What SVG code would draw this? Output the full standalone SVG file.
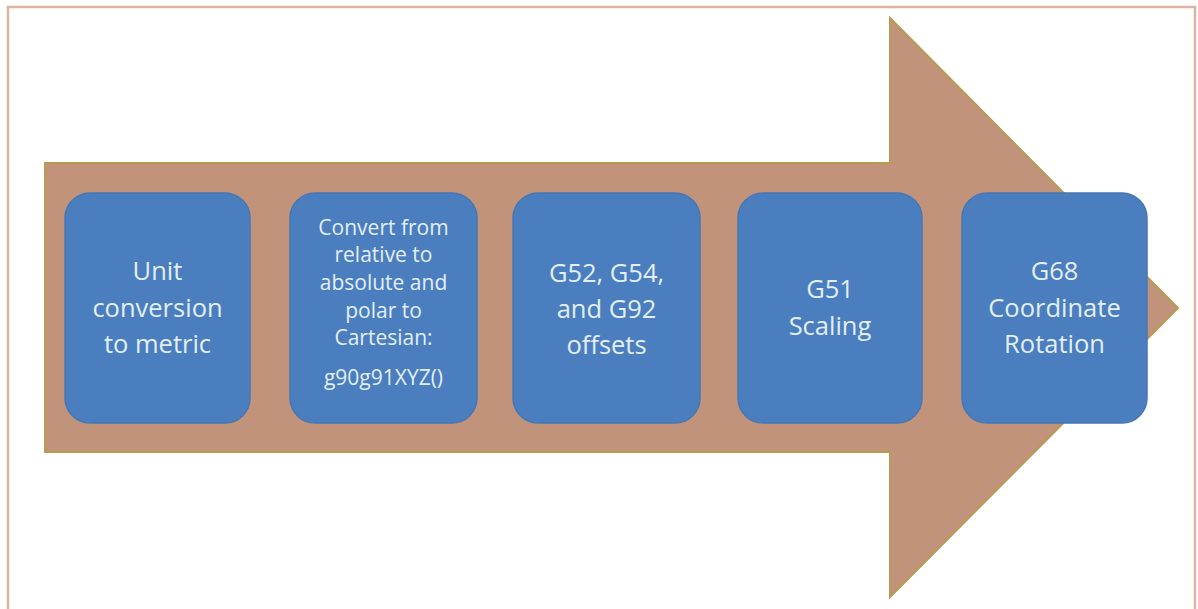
<svg xmlns="http://www.w3.org/2000/svg" width="1198" height="609" viewBox="0 0 1198 609">
  <style>
    .box { fill: #4a7ebe; stroke: #4677b4; stroke-width: 1.5; }
    .t { font-family: "Open Sans", "Liberation Sans", sans-serif; font-weight: 500; fill: #e3eef8; text-anchor: middle; }
    .big { font-size: 25.5px; }
    .small { font-size: 21px; }
  </style>
  <rect x="0" y="0" width="1198" height="609" fill="#ffffff"/>
  <rect x="8" y="7" width="1187" height="610" fill="none" stroke="#dbb59f" stroke-width="2.5"/>
  <g id="arrow">
    <path d="M45 163 L890 163 L890 18 L1178 308 L890 597 L890 452 L45 452 Z" fill="#c0937a" stroke="#b89a55" stroke-width="2"/>
  </g>
  <g id="connectors"></g>
  <g id="node1">
    <rect class="box" x="65" y="193" width="185" height="230" rx="25"/>
    <text class="t big" x="157.5" y="280">Unit</text>
    <text class="t big" x="157.5" y="317">conversion</text>
    <text class="t big" x="157.5" y="353">to metric</text>
  </g>
  <g id="node2">
    <rect class="box" x="290" y="193" width="187" height="230" rx="25"/>
    <text class="t small" x="383.5" y="235">Convert from</text>
    <text class="t small" x="383.5" y="262">relative to</text>
    <text class="t small" x="383.5" y="290">absolute and</text>
    <text class="t small" x="383.5" y="318">polar to</text>
    <text class="t small" x="383.5" y="345">Cartesian:</text>
    <text class="t small" x="383.5" y="385">g90g91XYZ()</text>
  </g>
  <g id="node3">
    <rect class="box" x="513" y="193" width="187" height="230" rx="25"/>
    <text class="t big" x="606.5" y="282">G52, G54,</text>
    <text class="t big" x="606.5" y="318">and G92</text>
    <text class="t big" x="606.5" y="354">offsets</text>
  </g>
  <g id="node4">
    <rect class="box" x="738" y="193" width="184" height="230" rx="25"/>
    <text class="t big" x="830" y="298">G51</text>
    <text class="t big" x="830" y="335">Scaling</text>
  </g>
  <g id="node5">
    <rect class="box" x="962" y="193" width="185" height="230" rx="25"/>
    <text class="t big" x="1054.5" y="280">G68</text>
    <text class="t big" x="1054.5" y="317">Coordinate</text>
    <text class="t big" x="1054.5" y="353">Rotation</text>
  </g>
</svg>
